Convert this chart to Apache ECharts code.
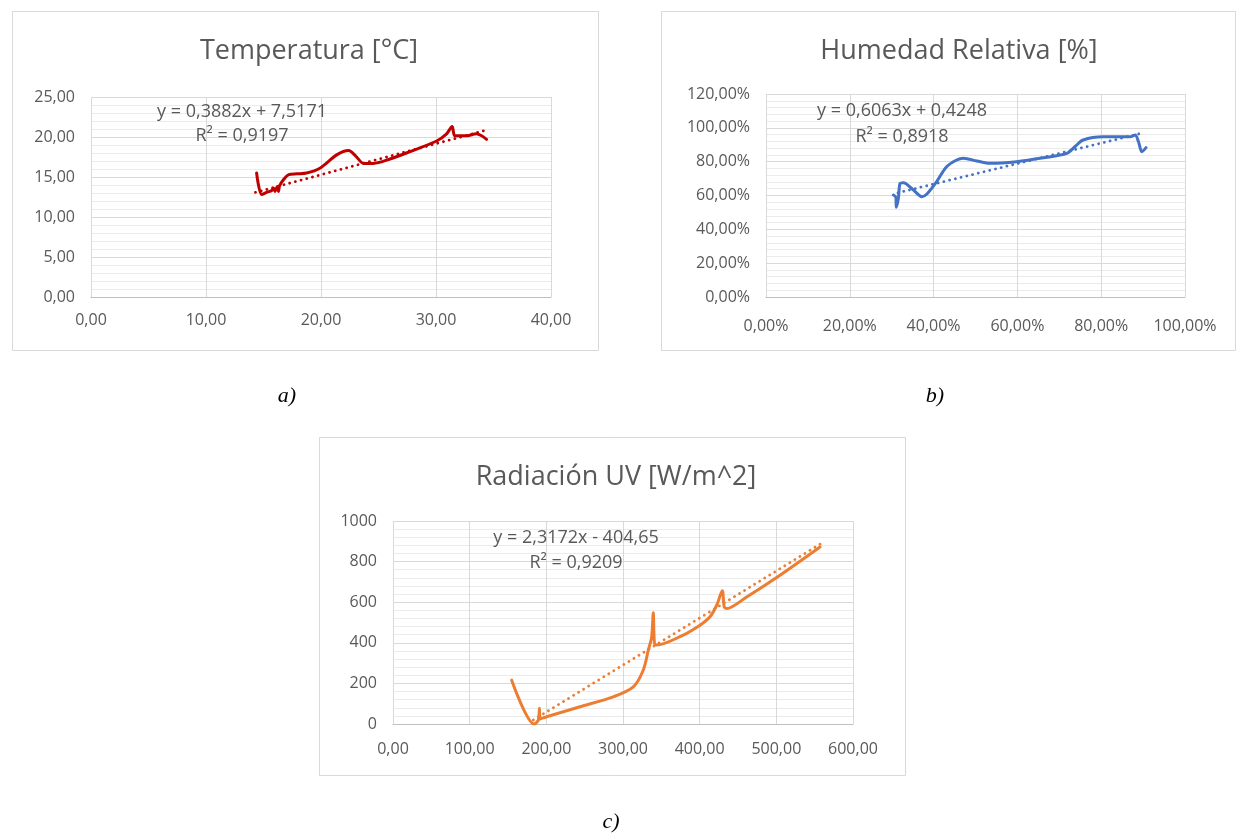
<!DOCTYPE html>
<html>
<head>
<meta charset="utf-8">
<script src="https://cdn.jsdelivr.net/npm/echarts@6/dist/echarts.min.js"></script>
<style>
html,body{margin:0;padding:0;background:#fff;}
#c{width:1236px;height:835px;}
</style>
</head>
<body>
<div id="c"></div>
<script>
// ---------- Data ----------
// a) Temperatura [°C]
var tempX = [14.4, 14.85, 15.3, 15.7, 15.9, 16.0, 16.2, 16.3, 16.4, 16.7, 17.2, 17.9, 18.75, 19.9, 21.4, 22.4, 23.0, 23.7, 24.55, 26.0, 27.7, 30.06, 30.9, 31.4, 31.65, 32.7, 33.5, 33.97, 34.4];
var tempY = [15.5, 12.8, 13.1, 13.3, 13.6, 13.2, 13.8, 13.2, 13.9, 14.6, 15.3, 15.4, 15.5, 16.1, 17.8, 18.3, 17.65, 16.7, 16.7, 17.25, 18.15, 19.5, 20.35, 21.3, 20.15, 20.15, 20.4, 20.15, 19.7];
var tempTrendX = [14.3, 34.4];
var tempTrendY = [13.07, 20.87];
var tempEq = ["y = 0,3882x + 7,5171", "R² = 0,9197"];
var tempXTicks = [0, 10, 20, 30, 40];
var tempYTicks = [0, 5, 10, 15, 20, 25];

// b) Humedad Relativa [%]
var humX = [30.4, 31.0, 31.1, 31.6, 32.0, 32.8, 35.2, 37.2, 38.4, 40.7, 43.1, 45.5, 47.1, 50.3, 53.5, 59.8, 66.2, 71.8, 73.7, 75.7, 80.5, 86.9, 88.1, 88.9, 89.7, 90.7];
var humY = [60.3, 58.9, 53.0, 58.3, 67.2, 67.6, 63.2, 59.3, 60.9, 68.1, 77.0, 81.0, 82.0, 80.4, 79.0, 80.0, 82.3, 84.9, 88.8, 92.8, 94.7, 94.7, 95.7, 91.8, 85.9, 88.3];
var humTrendX = [31.5, 89.0];
var humTrendY = [61.6, 96.4];
var humEq = ["y = 0,6063x + 0,4248", "R² = 0,8918"];
var humXTicks = [0, 20, 40, 60, 80, 100];
var humYTicks = [0, 20, 40, 60, 80, 100, 120];

// c) Radiación UV [W/m^2]
var uvX = [154.8, 184.3, 189.6, 191.0, 192.0, 200.4, 243.9, 287.4, 313.5, 326.5, 333.0, 337.4, 339.5, 341.0, 343.9, 374.3, 400.4, 413.5, 422.2, 429.5, 432.0, 435.2, 461.3, 504.8, 557.0];
var uvY = [216.0, 0.0, 19.7, 77.0, 25.0, 36.0, 85.0, 134.0, 183.0, 266.0, 364.0, 429.0, 548.0, 400.0, 389.0, 430.0, 487.0, 528.0, 585.0, 656.0, 577.0, 569.0, 626.0, 733.0, 872.0];
var uvTrendX = [183.0, 557.0];
var uvTrendY = [19.4, 886.0];
var uvEq = ["y = 2,3172x - 404,65", "R² = 0,9209"];
var uvXTicks = [0, 100, 200, 300, 400, 500, 600];
var uvYTicks = [0, 200, 400, 600, 800, 1000];

// ---------- Build ----------
function pairs(xs, ys){ var o=[]; for(var i=0;i<xs.length;i++) o.push([xs[i], ys[i]]); return o; }
var FONT = "'Open Sans', 'Noto Sans', sans-serif";
var GRAY = '#595959';
function comma(v){ return v.toFixed(2).replace('.', ','); }
function pct(v){ return v.toFixed(2).replace('.', ',') + '%'; }

function xAxis(idx, ticks, fmt, margin){
  return {
    type:'value', gridIndex:idx, min:ticks[0], max:ticks[ticks.length-1], interval:ticks[1]-ticks[0],
    axisLine:{show:true, lineStyle:{color:'#bfbfbf', width:1}},
    axisTick:{show:false},
    axisLabel:{color:GRAY, fontFamily:FONT, fontSize:16, margin:margin, formatter:fmt},
    splitLine:{show:true, lineStyle:{color:'#d9d9d9', width:1}}
  };
}
function yAxis(idx, ticks, fmt){
  return {
    type:'value', gridIndex:idx, min:ticks[0], max:ticks[ticks.length-1], interval:ticks[1]-ticks[0],
    axisLine:{show:false}, axisTick:{show:false},
    axisLabel:{color:GRAY, fontFamily:FONT, fontSize:16, margin:16, formatter:fmt},
    splitLine:{show:true, lineStyle:{color:'#d9d9d9', width:1}},
    minorTick:{show:false, splitNumber:5},
    minorSplitLine:{show:true, lineStyle:{color:'#ebebeb', width:1}}
  };
}
function mainSeries(idx, xs, ys, color){
  return {type:'line', xAxisIndex:idx, yAxisIndex:idx, data:pairs(xs,ys), smooth:0.3, showSymbol:false, symbol:'none',
    lineStyle:{color:color, width:3, cap:'round', join:'round'}, z:3};
}
function trendSeries(idx, xs, ys, color){
  return {type:'line', xAxisIndex:idx, yAxisIndex:idx, data:pairs(xs,ys), showSymbol:false, symbol:'none',
    lineStyle:{color:color, width:2.8, type:[0.1,5.8], cap:'round'}, z:2};
}
function eqText(x, y, s){
  return {type:'text', x:x, y:y, style:{text:s, font:'18px '+FONT, fill:GRAY, textAlign:'center', textVerticalAlign:'middle'}, z:10};
}
function caption(x, y, s){
  return {type:'text', x:x, y:y, style:{text:s, font:'italic 22px "Liberation Serif", serif', fill:'#000', textAlign:'center', textVerticalAlign:'middle'}};
}
var TITLE_STYLE = {fontFamily:FONT, fontSize:27, fontWeight:'normal', color:GRAY};

var option = {
  backgroundColor:'#ffffff',
  animation:false,
  title:[
    {text:'Temperatura [°C]', left:304, top:33, textAlign:'center', textStyle:TITLE_STYLE},
    {text:'Humedad Relativa [%]', left:954, top:33, textAlign:'center', textStyle:TITLE_STYLE},
    {text:'Radiación UV [W/m^2]', left:611, top:459, textAlign:'center', textStyle:TITLE_STYLE}
  ],
  grid:[
    {left:91, top:97, width:460, height:200},
    {left:766, top:94, width:419, height:203},
    {left:393, top:521, width:460, height:203}
  ],
  xAxis:[ xAxis(0, tempXTicks, comma, 15), xAxis(1, humXTicks, pct, 21), xAxis(2, uvXTicks, comma, 17) ],
  yAxis:[ yAxis(0, tempYTicks, comma), yAxis(1, humYTicks, pct), yAxis(2, uvYTicks, function(v){return String(v);}) ],
  series:[
    trendSeries(0, tempTrendX, tempTrendY, '#c00000'),
    mainSeries(0, tempX, tempY, '#c00000'),
    trendSeries(1, humTrendX, humTrendY, '#4472c4'),
    mainSeries(1, humX, humY, '#4472c4'),
    trendSeries(2, uvTrendX, uvTrendY, '#ed7d31'),
    mainSeries(2, uvX, uvY, '#ed7d31')
  ],
  graphic:[
    {type:'rect', shape:{x:12.5, y:11.5, width:586, height:339}, style:{fill:'none', stroke:'#d9d9d9', lineWidth:1}, silent:true, z:-1},
    {type:'rect', shape:{x:661.5, y:11.5, width:574, height:339}, style:{fill:'none', stroke:'#d9d9d9', lineWidth:1}, silent:true, z:-1},
    {type:'rect', shape:{x:319.5, y:437.5, width:586, height:338}, style:{fill:'none', stroke:'#d9d9d9', lineWidth:1}, silent:true, z:-1},

    eqText(242, 112, tempEq[0]),
    eqText(242, 136, tempEq[1]),
    eqText(902, 111, humEq[0]),
    eqText(902, 137, humEq[1]),
    eqText(576, 538, uvEq[0]),
    eqText(576, 563, uvEq[1]),

    caption(287, 396, 'a)'),
    caption(935, 396, 'b)'),
    caption(611, 822, 'c)')
  ]
};
var chart = echarts.init(document.getElementById('c'), null, {renderer:'canvas'});
chart.setOption(option);
</script>
</body>
</html>
